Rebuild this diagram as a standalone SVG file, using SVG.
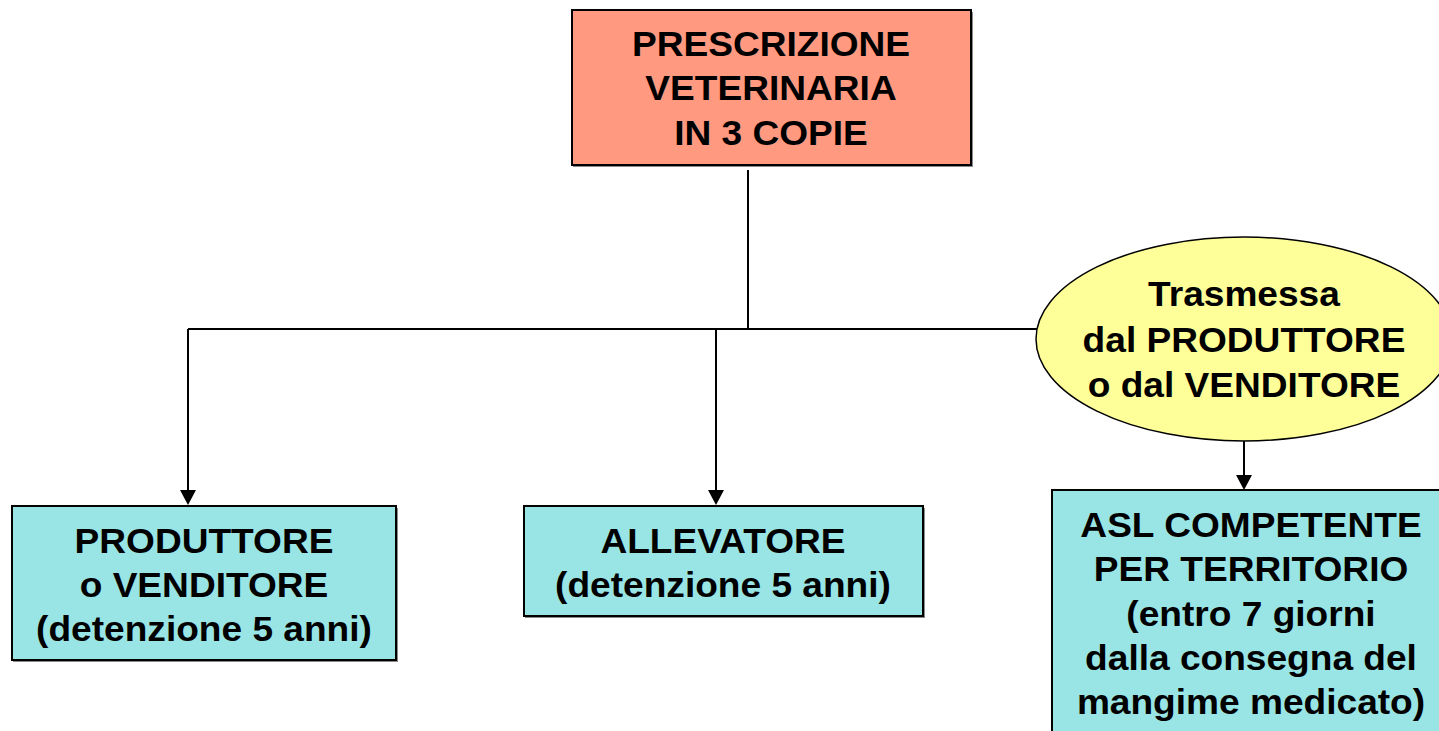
<svg xmlns="http://www.w3.org/2000/svg" width="1439" height="731" viewBox="0 0 1439 731">
  <style>
    .box { stroke: #000; stroke-width: 2; }
    .shadow { fill: #8a8a8a; }
    .red { fill: #FF9980; }
    .teal { fill: #99E5E5; }
    .yellow { fill: #FFFF99; stroke: #000; stroke-width: 1.5; }
    .lbl { font-family: "Liberation Sans", Arial, sans-serif; font-weight: bold; font-size: 35px; fill: #000; text-anchor: middle; }
    .wire { stroke: #000; stroke-width: 2; fill: none; }
  </style>
  <defs>
    <marker id="arrow" markerWidth="16" markerHeight="15" refX="8" refY="15" orient="auto-start-reverse" markerUnits="userSpaceOnUse" viewBox="0 0 16 15">
      <path d="M0,0 L16,0 L8,15 Z" fill="#000"/>
    </marker>
  </defs>
  <rect width="1439" height="731" fill="#fff"/>

  <!-- connectors -->
  <g id="connectors">
    <line class="wire" x1="748" y1="170" x2="748" y2="329"/>
    <line class="wire" x1="188" y1="329" x2="1040" y2="329"/>
    <path class="wire" d="M188,329 V490" />
    <path d="M180,490 L196,490 L188,505 Z" fill="#000"/>
    <path class="wire" d="M716,329 V490" />
    <path d="M708,490 L724,490 L716,505 Z" fill="#000"/>
    <path class="wire" d="M1244,441 V475" />
    <path d="M1236,475 L1252,475 L1244,490 Z" fill="#000"/>
  </g>

  <!-- top node -->
  <g id="prescrizione">
    <rect class="shadow" x="573" y="12" width="400" height="155"/>
    <rect class="box red" x="572" y="10" width="399" height="155"/>
    <g transform="translate(771,0) scale(1.06,1)">
      <text class="lbl" x="0" y="56">PRESCRIZIONE</text>
      <text class="lbl" x="0" y="100">VETERINARIA</text>
      <text class="lbl" x="0" y="145">IN 3 COPIE</text>
    </g>
  </g>

  <!-- ellipse node -->
  <g id="trasmessa">
    <ellipse class="yellow" cx="1244" cy="339" rx="208" ry="102"/>
    <g transform="translate(1244,0) scale(1.06,1)">
      <text class="lbl" x="0" y="306">Trasmessa</text>
      <text class="lbl" x="0" y="352">dal PRODUTTORE</text>
      <text class="lbl" x="0" y="397">o dal VENDITORE</text>
    </g>
  </g>

  <!-- bottom-left node -->
  <g id="produttore">
    <rect class="shadow" x="13" y="508" width="385" height="154"/>
    <rect class="box teal" x="12" y="506" width="384" height="154"/>
    <g transform="translate(204,0) scale(1.06,1)">
      <text class="lbl" x="0" y="553">PRODUTTORE</text>
      <text class="lbl" x="0" y="597">o VENDITORE</text>
      <text class="lbl" x="0" y="641">(detenzione 5 anni)</text>
    </g>
  </g>

  <!-- middle node -->
  <g id="allevatore">
    <rect class="shadow" x="525" y="508" width="400" height="110"/>
    <rect class="box teal" x="524" y="506" width="399" height="110"/>
    <g transform="translate(723,0) scale(1.06,1)">
      <text class="lbl" x="0" y="553">ALLEVATORE</text>
      <text class="lbl" x="0" y="597">(detenzione 5 anni)</text>
    </g>
  </g>

  <!-- bottom-right node -->
  <g id="asl">
    <rect class="box teal" x="1052" y="490" width="400" height="260"/>
    <g transform="translate(1251,0) scale(1.06,1)">
      <text class="lbl" x="0" y="537">ASL COMPETENTE</text>
      <text class="lbl" x="0" y="581">PER TERRITORIO</text>
      <text class="lbl" x="0" y="626">(entro 7 giorni</text>
      <text class="lbl" x="0" y="670">dalla consegna del</text>
      <text class="lbl" x="0" y="714">mangime medicato)</text>
    </g>
  </g>
</svg>
